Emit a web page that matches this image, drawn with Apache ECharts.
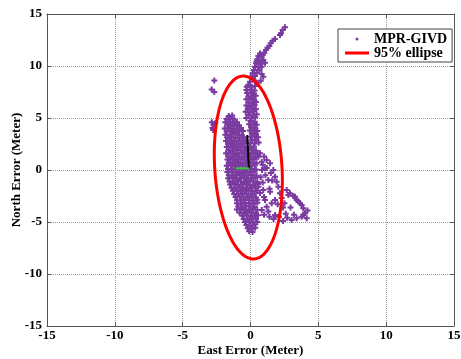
<!DOCTYPE html>
<html>
<head>
<meta charset="utf-8">
<script src="https://cdn.jsdelivr.net/npm/echarts@6/dist/echarts.min.js"></script>
<style>
    html, body { margin: 0; padding: 0; background: #fff; }
    #main { width: 461px; height: 359px; }
</style>
</head>
<body>
<div id="main"></div>
<script>
var axisTicks = [-15, -10, -5, 0, 5, 10, 15];
var seriesNames = ['MPR-GIVD', '95% ellipse'];

// scatter points, grouped by region
var trailPts = [[2.54,13.72],[2.37,13.46],[2.25,13.14],[2.17,12.98],[1.8,12.6],[1.63,12.43],[1.49,12.18],[1.39,11.92],
    [1.25,11.75],[1.14,11.54],[1.02,11.28],[0.9,11.09],[0.7,11.2],[0.58,10.96],[0.82,10.83],[0.5,10.64],[0.94,10.58],
    [0.65,10.41],[0.45,10.45],[0.41,10.26],[0.75,10.19],[1.07,10.32],[0.33,9.93],[0.58,9.87],[0.82,9.93],[0.26,9.62],
    [0.65,9.62],[0.46,9.36],[0.16,9.3],[0.82,9.23],[0.33,9.04],[0.01,8.97],[0.94,8.97],[0.21,8.72],[0.75,8.59],
    [-0.04,8.49],[0.46,8.4],[-0.16,8.17],[0.09,8.01],[0.33,8.08],[-0.28,8.01]];
var outlierPts = [[-2.67,8.6],[-2.86,7.75],[-2.67,7.5],[-2.85,4.6],[-2.72,4.35],[-2.8,4.05],[-2.6,4.5],[-2.75,3.85]];
var columnPts = [[-0.3,7.7],[0.0,7.75],[0.3,7.65],[-0.25,7.4],[0.05,7.45],[0.25,7.35],[-0.15,7.1],[0.12,7.05],[0.38,7.15],
    [-0.3,6.8],[0.0,6.85],[0.28,6.75],[-0.15,6.5],[0.15,6.45],[0.4,6.55],[-0.3,6.2],[0.0,6.15],[0.3,6.25],
    [-0.2,5.9],[0.1,5.95],[0.4,5.85],[-0.35,5.6],[-0.05,5.55],[0.25,5.65],[-0.15,5.3],[0.15,5.25],[0.45,5.35],
    [-0.3,5.0],[0.05,4.95],[0.35,5.05],[0.0,4.7],[0.3,4.65],[-0.1,4.4],[0.2,4.45],[0.45,4.35],[0.05,4.1],[0.35,4.05],
    [-0.05,3.8],[0.25,3.85],[0.5,3.75],[0.1,3.5],[0.4,3.45],[0.0,3.2],[0.3,3.25],[0.55,3.15],[0.1,2.9],[0.4,2.85],
    [0.0,2.6],[0.3,2.55],[0.6,2.65]];
var leftBlobPts = [[-1.6,5.2],[-1.35,5.25],[-1.75,4.9],[-1.5,4.95],[-1.2,4.85],[-1.85,4.6],[-1.6,4.55],[-1.3,4.65],[-1.0,4.6],
    [-1.7,4.3],[-1.45,4.25],[-1.15,4.35],[-0.85,4.3],[-1.9,4.0],[-1.6,4.05],[-1.3,3.95],[-1.0,4.0],[-0.7,4.05],
    [-1.75,3.7],[-1.45,3.75],[-1.15,3.65],[-0.85,3.7],[-0.55,3.75],[-1.85,3.4],[-1.55,3.35],[-1.25,3.45],[-0.95,3.4],[-0.65,3.35],
    [-1.7,3.1],[-1.4,3.15],[-1.1,3.05],[-0.8,3.1],[-0.5,3.15],[-1.8,2.8],[-1.5,2.85],[-1.2,2.75],[-0.9,2.8],[-0.6,2.85],[-0.35,2.8],
    [-1.65,2.5],[-1.35,2.55],[-1.05,2.45],[-0.75,2.5],[-0.45,2.55]];
var corePts = [[-1.75,2.2],[-1.45,2.25],[-1.2,2.15],[-0.9,2.2],[-0.6,2.25],[-0.35,2.15],[-0.05,2.2],[0.25,2.25],
    [-1.6,1.9],[-1.3,1.85],[-1.0,1.95],[-0.75,1.9],[-0.45,1.85],[-0.2,1.95],[0.1,1.9],[0.4,1.85],
    [-1.8,1.6],[-1.5,1.65],[-1.2,1.55],[-0.95,1.6],[-0.65,1.65],[-0.35,1.55],[-0.1,1.6],[0.2,1.65],[0.5,1.55],
    [-1.65,1.3],[-1.35,1.25],[-1.05,1.35],[-0.8,1.3],[-0.5,1.25],[-0.25,1.35],[0.05,1.3],[0.35,1.25],
    [-1.7,1.0],[-1.45,1.05],[-1.15,0.95],[-0.9,1.0],[-0.6,1.05],[-0.3,0.95],[0.0,1.0],[0.3,1.05],
    [-1.6,0.7],[-1.3,0.65],[-1.0,0.75],[-0.75,0.7],[-0.45,0.65],[-0.15,0.75],[0.15,0.7],[0.45,0.65],
    [-1.75,0.4],[-1.45,0.45],[-1.15,0.35],[-0.85,0.4],[-0.6,0.45],[-0.3,0.35],[0.0,0.4],[0.3,0.45],
    [-1.65,0.1],[-1.35,0.05],[-1.05,0.15],[-0.8,0.1],[-0.5,0.05],[-0.2,0.15],[0.1,0.1],[0.4,0.05],
    [-1.7,-0.2],[-1.4,-0.15],[-1.1,-0.25],[-0.85,-0.2],[-0.55,-0.15],[-0.3,-0.25],[0.0,-0.2],[0.3,-0.15],
    [-1.6,-0.5],[-1.3,-0.55],[-1.0,-0.45],[-0.7,-0.5],[-0.45,-0.55],[-0.15,-0.45],[0.15,-0.5],[0.45,-0.55],
    [-1.65,-0.8],[-1.35,-0.75],[-1.1,-0.85],[-0.8,-0.8],[-0.5,-0.75],[-0.25,-0.85],[0.05,-0.8],[0.35,-0.75],
    [-1.55,-1.1],[-1.25,-1.15],[-0.95,-1.05],[-0.7,-1.1],[-0.4,-1.15],[-0.1,-1.05],[0.2,-1.1],[0.5,-1.15],
    [-1.5,-1.4],[-1.2,-1.35],[-0.9,-1.45],[-0.6,-1.4],[-0.35,-1.35],[-0.05,-1.45],[0.25,-1.4],[0.55,-1.35],
    [-1.4,-1.7],[-1.1,-1.75],[-0.8,-1.65],[-0.55,-1.7],[-0.25,-1.75],[0.05,-1.65],[0.35,-1.7],
    [-1.3,-2.0],[-1.0,-1.95],[-0.7,-2.05],[-0.4,-2.0],[-0.15,-1.95],[0.15,-2.05],[0.45,-2.0],
    [-1.2,-2.3],[-0.9,-2.35],[-0.6,-2.25],[-0.3,-2.3],[0.0,-2.35],[0.3,-2.25],
    [-1.1,-2.6],[-0.8,-2.55],[-0.5,-2.65],[-0.2,-2.6],[0.1,-2.55],[0.4,-2.65],
    [-1.0,-2.9],[-0.7,-2.95],[-0.4,-2.85],[-0.1,-2.9],[0.2,-2.95],[0.5,-2.85]];
var rightPts = [[0.7,1.6],[1.0,1.3],[1.19,0.96],[0.9,0.5],[1.44,0.64],[1.2,0.2],[1.68,0.0],[1.5,-0.3],[1.81,-0.64],
    [1.1,-0.5],[1.93,-1.12],[1.6,-1.0],[2.05,-1.6],[0.9,-1.2],[2.17,-2.24],[1.4,-1.8],[1.81,-2.88],[2.3,-2.7],
    [1.56,-3.2],[1.19,-3.53],[0.83,-3.85],[0.7,-2.2],[1.0,-2.6],[0.85,0.0],[0.75,-0.7],[2.0,-3.3],[2.4,-3.6],
    [0.58,1.28],[0.83,0.8],[1.07,0.16],[1.31,-0.96],[0.58,-1.6],[0.94,-1.92],[1.44,-2.08],[1.07,-2.88],
    [1.31,-4.0],[1.81,-4.33]];
var armPts = [[2.67,-1.92],[2.91,-2.24],[3.15,-2.5],[3.4,-2.88],[3.65,-3.2],[3.89,-3.68],[4.02,-4.16],[4.14,-4.65],
    [3.77,-4.49],[3.4,-4.65],[3.03,-4.81],[2.79,-2.4],[3.28,-2.57],[3.52,-3.0],[3.77,-3.37],[4.2,-3.9],[3.9,-4.3],
    [2.7,-4.6],[2.4,-4.9],[2.1,-4.5],[1.7,-4.7],[1.4,-4.5],[1.0,-4.3],[2.5,-3.2],[2.6,-4.2],[3.2,-4.3],[2.95,-3.6]];
var lowerPts = [[-1.0,-3.2],[-0.7,-3.25],[-0.4,-3.15],[-0.1,-3.2],[0.2,-3.25],[0.5,-3.15],
    [-0.9,-3.5],[-0.6,-3.55],[-0.3,-3.45],[0.0,-3.5],[0.3,-3.55],
    [-1.0,-3.8],[-0.7,-3.75],[-0.4,-3.85],[-0.1,-3.8],[0.2,-3.75],[0.5,-3.85],
    [-0.8,-4.1],[-0.5,-4.15],[-0.2,-4.05],[0.1,-4.1],[0.4,-4.15],
    [-0.6,-4.4],[-0.3,-4.35],[0.0,-4.45],[0.3,-4.4],[0.55,-4.35],
    [-0.5,-4.7],[-0.2,-4.75],[0.1,-4.65],[0.4,-4.7],
    [-0.4,-5.0],[-0.1,-4.95],[0.2,-5.05],[0.5,-5.0],
    [-0.3,-5.3],[0.0,-5.35],[0.3,-5.25],[-0.2,-5.6],[0.1,-5.65],[0.35,-5.55],[-0.1,-5.9],[0.15,-5.95]];

// ellipse: centre, semi-axes [major, minor], tilt of major axis from vertical (deg, leaning left)
var ellipseCenter = [-0.16, 0.24];
var ellipseAxes = [8.8, 2.48];
var ellipseTilt = 2.6;
var blackLine = [[-0.24, 3.37], [-0.12, 0.16]];
var greenLine = [[-1.07, 0.16], [-0.1, 0.16]];

var allPts = trailPts.concat(outlierPts, columnPts, leftBlobPts, corePts, rightPts, armPts, lowerPts);

var font = 'Liberation Serif';
var axisColor = '#555';

var chart = echarts.init(document.getElementById('main'));

function makeAxis(pos, isX) {
    var main = (pos === 'bottom' || pos === 'left');
    return {
        type: 'value',
        position: pos,
        min: axisTicks[0],
        max: axisTicks[axisTicks.length - 1],
        interval: 5,
        name: main ? (isX ? 'East Error (Meter)' : 'North Error (Meter)') : '',
        nameLocation: 'middle',
        nameGap: isX ? 18 : 24,
        nameMoveOverlap: false,
        nameTextStyle: { fontFamily: font, fontWeight: 'bold', fontSize: 13, color: '#000' },
        axisLine: { show: true, onZero: false, lineStyle: { color: axisColor, width: 1 } },
        axisTick: { show: true, inside: true, length: 4, lineStyle: { color: axisColor } },
        axisLabel: {
            show: main,
            fontFamily: font, fontWeight: 'bold', fontSize: 13, color: '#000',
            margin: isX ? 3 : 5
        },
        splitLine: {
            show: main,
            lineStyle: { type: 'dotted', color: '#999', width: 1 }
        }
    };
}

var option = {
    animation: false,
    backgroundColor: '#fff',
    grid: { left: 47, right: 7, top: 14, bottom: 33, outerBoundsMode: 'none', containLabel: false },
    xAxis: [makeAxis('bottom', true), makeAxis('top', true)],
    yAxis: [makeAxis('left', false), makeAxis('right', false)],
    legend: {
        orient: 'vertical',
        left: 338,
        top: 29,
        padding: [3, 5, 2, 7],
        itemWidth: 24,
        itemHeight: 3,
        itemGap: 0,
        borderColor: '#444',
        borderWidth: 1,
        backgroundColor: '#fff',
        textStyle: { fontFamily: font, fontWeight: 'bold', fontSize: 14, color: '#000' },
        data: [
            { name: seriesNames[0], icon: 'circle' },
            { name: seriesNames[1], icon: 'rect' }
        ]
    },
    series: [
        {
            name: seriesNames[0],
            type: 'scatter',
            data: allPts,
            symbol: 'path://M2,0h2v2h2v2h-2v2h-2v-2h-2v-2h2z',
            symbolSize: 6,
            itemStyle: { color: '#7a3aa0', opacity: 1 },
            z: 2
        },
        {
            name: seriesNames[1],
            type: 'custom',
            data: [ellipseCenter],
            itemStyle: { color: '#ff0000' },
            z: 3,
            renderItem: function (params, api) {
                var th = ellipseTilt * Math.PI / 180;
                var pts = [];
                for (var i = 0; i <= 180; i++) {
                    var t = i / 180 * 2 * Math.PI;
                    var u = ellipseAxes[0] * Math.sin(t);
                    var v = ellipseAxes[1] * Math.cos(t);
                    var x = ellipseCenter[0] - u * Math.sin(th) + v * Math.cos(th);
                    var y = ellipseCenter[1] + u * Math.cos(th) + v * Math.sin(th);
                    pts.push(api.coord([x, y]));
                }
                return {
                    type: 'polyline',
                    shape: { points: pts },
                    style: { fill: null, stroke: '#ff0000', lineWidth: 3 }
                };
            }
        },
        {
            name: 'axis1',
            type: 'line',
            data: blackLine,
            symbol: 'none',
            lineStyle: { color: '#000', width: 2 },
            z: 4
        },
        {
            name: 'axis2',
            type: 'line',
            data: greenLine,
            symbol: 'none',
            lineStyle: { color: '#33cc33', width: 2 },
            z: 4
        }
    ]
};
chart.setOption(option);
</script>
</body>
</html>
